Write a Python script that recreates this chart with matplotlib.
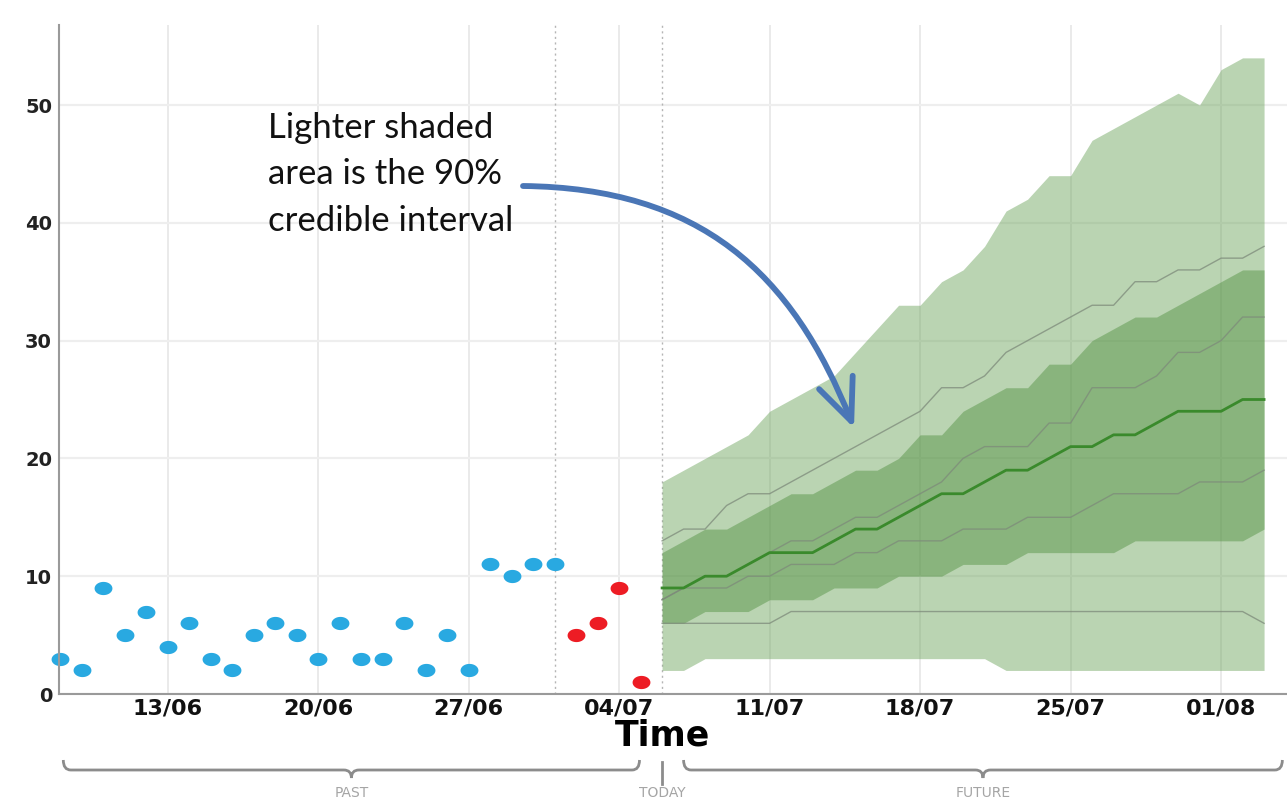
import numpy as np
import pandas as pd
import matplotlib
matplotlib.use("Agg")
import matplotlib.pyplot as plt
import matplotlib.dates as mdates
from matplotlib.path import Path
from matplotlib.patches import PathPatch, FancyArrowPatch
from matplotlib.transforms import blended_transform_factory

# ---------------- data ----------------
obs_start = "2020-06-08"
obs_past = [3, 2, 9, 5, 7, 4, 6, 3, 2, 5, 6, 5, 3, 6, 3, 3, 6, 2, 5, 2, 11, 10, 11, 11]
obs_recent = [5, 6, 9, 1]
cutoff_date = "2020-07-01"
forecast_start = "2020-07-06"

lo90 = [2, 2, 3, 3, 3, 3, 3, 3, 3, 3, 3, 3, 3, 3, 3, 3, 2, 2, 2, 2, 2, 2, 2, 2, 2, 2, 2, 2, 2]
hi90 = [18, 19, 20, 21, 22, 24, 25, 26, 27, 29, 31, 33, 33, 35, 36, 38, 41, 42, 44, 44, 47, 48, 49, 50, 51, 50, 53, 54, 54]
lo50 = [6, 6, 7, 7, 7, 8, 8, 8, 9, 9, 9, 10, 10, 10, 11, 11, 11, 12, 12, 12, 12, 12, 13, 13, 13, 13, 13, 13, 14]
hi50 = [12, 13, 14, 14, 15, 16, 17, 17, 18, 19, 19, 20, 22, 22, 24, 25, 26, 26, 28, 28, 30, 31, 32, 32, 33, 34, 35, 36, 36]
median = [9, 9, 10, 10, 11, 12, 12, 12, 13, 14, 14, 15, 16, 17, 17, 18, 19, 19, 20, 21, 21, 22, 22, 23, 24, 24, 24, 25, 25]
q_a = [13, 14, 14, 16, 17, 17, 18, 19, 20, 21, 22, 23, 24, 26, 26, 27, 29, 30, 31, 32, 33, 33, 35, 35, 36, 36, 37, 37, 38]
q_b = [8, 9, 10, 10, 11, 12, 13, 13, 14, 15, 15, 16, 17, 18, 20, 21, 21, 21, 23, 23, 26, 26, 26, 27, 29, 29, 30, 32, 32]
q_c = [8, 9, 9, 9, 10, 10, 11, 11, 11, 12, 12, 13, 13, 13, 14, 14, 14, 15, 15, 15, 16, 17, 17, 17, 17, 18, 18, 18, 19]
q_d = [6, 6, 6, 6, 6, 6, 7, 7, 7, 7, 7, 7, 7, 7, 7, 7, 7, 7, 7, 7, 7, 7, 7, 7, 7, 7, 7, 7, 6]

tick_dates = ["2020-06-13", "2020-06-20", "2020-06-27", "2020-07-04",
              "2020-07-11", "2020-07-18", "2020-07-25", "2020-08-01"]
tick_labels = ["13/06", "20/06", "27/06", "04/07", "11/07", "18/07", "25/07", "01/08"]
y_ticks = [0, 10, 20, 30, 40, 50]

annotation = "Lighter shaded\narea is the 90%\ncredible interval"

# ---------------- derived ----------------
n_obs = len(obs_past) + len(obs_recent)
x_obs = mdates.date2num(pd.date_range(obs_start, periods=n_obs, freq="D"))
x_fc = mdates.date2num(pd.date_range(forecast_start, periods=len(median), freq="D"))
x_ticks = mdates.date2num(pd.to_datetime(tick_dates))
x_cut = mdates.date2num(pd.Timestamp(cutoff_date))
x_today = x_fc[0]

W, H = 1287, 801
AX_L, AX_B, AX_T = 59, 694, 25
fig = plt.figure(figsize=(W / 100, H / 100), dpi=100)
ax = fig.add_axes([AX_L / W, (H - AX_B) / H, (W - AX_L) / W, (AX_B - AX_T) / H])

# grid
for xt in x_ticks:
    ax.axvline(xt, color="#e6e6e6", lw=1.2, zorder=0)
for yt in y_ticks:
    ax.axhline(yt, color="#eeeeee", lw=1.6, zorder=0)

# dotted separators
for xv in (x_cut, x_today):
    ax.axvline(xv, color="#b5b5b5", lw=1.0, ls=(0, (1.5, 2.5)), zorder=1)

# forecast bands
ax.fill_between(x_fc, lo90, hi90, color="#6fa65f", alpha=0.48, lw=0, zorder=2)
ax.fill_between(x_fc, lo50, hi50, color="#4f8f3e", alpha=0.45, lw=0, zorder=3)
for q in (q_a, q_b, q_c, q_d):
    ax.plot(x_fc, q, color="#7d8a7a", lw=1.0, alpha=0.75, zorder=4)
ax.plot(x_fc, median, color="#3a8a2c", lw=2.0, zorder=5)

# observations (slightly wide ellipse markers)
t = np.linspace(0, 2 * np.pi, 60)
ell = Path(np.column_stack([1.35 * np.cos(t), np.sin(t)]))
ax.scatter(x_obs[:len(obs_past)], obs_past, s=165, marker=ell, color="#29a9e1",
           lw=0, zorder=6, clip_on=False)
ax.scatter(x_obs[len(obs_past):], obs_recent, s=165, marker=ell, color="#ed1c24",
           lw=0, zorder=6, clip_on=False)

# axes styling
ax.set_xlim(x_obs[0] - 0.05, x_obs[0] - 0.05 + (W - AX_L) / 21.5)
ax.set_ylim(0, (AX_B - AX_T) / 11.78)
ax.set_xticks(x_ticks)
ax.set_xticklabels(tick_labels, fontsize=16, fontweight="bold", color="#111111")
ax.set_yticks(y_ticks)
ax.set_yticklabels([str(v) for v in y_ticks], fontsize=14, fontweight="bold",
                   color="#222222")
ax.tick_params(length=0, axis="x", pad=3)
ax.tick_params(length=0, axis="y", pad=5)
for s in ("top", "right"):
    ax.spines[s].set_visible(False)
for s in ("left", "bottom"):
    ax.spines[s].set_color("#9a9a9a")
    ax.spines[s].set_linewidth(1.5)
    ax.spines[s].set_zorder(7)


def axf(px, py):
    """figure pixel (from top-left) -> axes fraction"""
    return ((px - AX_L) / (W - AX_L), (AX_B - py) / (AX_B - AX_T))


# annotation text and curved arrow
tx, ty = axf(268, 112)
ax.text(tx, ty, annotation, transform=ax.transAxes, ha="left", va="top",
        fontsize=25, family=["Lato", "DejaVu Sans"], linespacing=1.55,
        color="#111111")
arrow_path = Path([axf(523, 186), axf(700, 188), axf(792, 272), axf(854, 428)],
                  [Path.MOVETO, Path.CURVE4, Path.CURVE4, Path.CURVE4])
arrow = FancyArrowPatch(path=arrow_path, transform=ax.transAxes,
                        arrowstyle="->,head_length=1.5,head_width=0.65",
                        mutation_scale=20, color="#4a76b6", lw=4.2, zorder=8,
                        shrinkA=0, shrinkB=0)
ax.add_patch(arrow)

# x label
bt = blended_transform_factory(ax.transData, fig.transFigure)


def fy(py):
    return (H - py) / H


ax.text(x_today, fy(735), "Time", transform=bt, ha="center", va="center",
        fontsize=25, fontweight="bold", color="#000000", clip_on=False)


# braces
def brace(x0, x1, yt, ym, yb, r):
    xc = 0.5 * (x0 + x1)
    verts = [(x0, yt), (x0, ym), (x0 + r, ym), (xc - r, ym), (xc, ym), (xc, yb),
             (xc, ym), (xc + r, ym), (x1 - r, ym), (x1, ym), (x1, yt)]
    codes = [Path.MOVETO, Path.CURVE3, Path.CURVE3, Path.LINETO, Path.CURVE3,
             Path.CURVE3, Path.CURVE3, Path.CURVE3, Path.LINETO, Path.CURVE3,
             Path.CURVE3]
    p = PathPatch(Path(verts, codes), transform=bt, fill=False,
                  edgecolor="#8c8c8c", lw=2, clip_on=False)
    ax.add_artist(p)
    return xc


past_c = brace(x_obs[0] + 0.15, x_obs[-1] - 0.05, fy(760), fy(770), fy(778), 0.35)
fut_c = brace(x_fc[0] + 1.0, x_fc[-1] + 0.85, fy(760), fy(770), fy(778), 0.35)
ax.plot([x_today, x_today], [fy(762), fy(784)], transform=bt, color="#8c8c8c",
        lw=2, clip_on=False)
for xc, lab in ((past_c, "PAST"), (x_today, "TODAY"), (fut_c, "FUTURE")):
    ax.text(xc, fy(793), lab, transform=bt, ha="center", va="center", fontsize=10,
            color="#a5a5a5", clip_on=False)

fig.savefig("out.png", dpi=100)
